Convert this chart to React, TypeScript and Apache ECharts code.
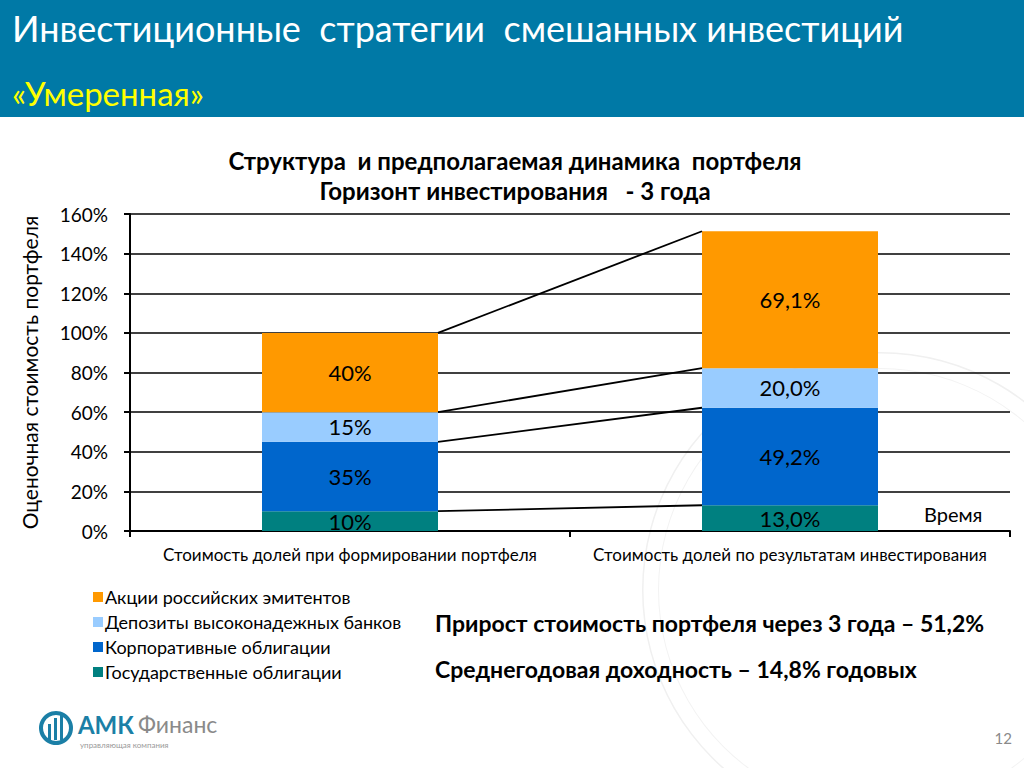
import React, { useEffect, useRef } from "react";
import * as echarts from "echarts";

const categories = [
  "Стоимость долей при формировании портфеля",
  "Стоимость долей по результатам инвестирования",
];
const seriesNames = [
  "Государственные облигации",
  "Корпоративные облигации",
  "Депозиты высоконадежных банков",
  "Акции российских эмитентов",
];
const govBonds = [10, 13.0];
const corpBonds = [35, 49.2];
const deposits = [15, 20.0];
const stocks = [40, 69.1];
const yTicks = [0, 160, 20];
const legendOrder = [
  "Акции российских эмитентов",
  "Депозиты высоконадежных банков",
  "Корпоративные облигации",
  "Государственные облигации",
];

const colors = ["#008080", "#0066CC", "#99CCFF", "#FF9900"];
const FONT = "Lato, 'Open Sans', sans-serif";

export default function App() {
  const ref = useRef<HTMLDivElement>(null);
  useEffect(() => {
    document.body.style.margin = "0";
    if (!ref.current) return;
    const chart = echarts.init(ref.current, null, { renderer: "svg" });
    const values = [govBonds, corpBonds, deposits, stocks];
    const cum: number[][] = [];
    let acc = [0, 0];
    values.forEach((v) => {
      acc = [acc[0] + v[0], acc[1] + v[1]];
      cum.push([0, acc[0], acc[1]]);
    });
    const fmt = (v: number, idx: number) =>
      idx === 0 ? `${v}%` : `${v.toFixed(1).replace(".", ",")}%`;

    const barSeries = values.map((v, i) => ({
      type: "bar",
      name: seriesNames[i],
      stack: "total",
      data: v,
      barWidth: "40%",
      itemStyle: { color: colors[i] },
      label: {
        show: true,
        position: "inside",
        color: "#000",
        fontSize: 22,
        fontFamily: FONT,
        formatter: (p: any) => fmt(p.value, p.dataIndex),
      },
      z: 3,
    }));

    chart.setOption({
      animation: false,
      backgroundColor: "#fff",
      textStyle: { fontFamily: FONT },
      grid: { left: 130, right: 14, top: 214, bottom: 237, containLabel: false },
      legend: {
        orient: "vertical",
        left: 88,
        top: 583,
        itemWidth: 10,
        itemHeight: 10,
        itemGap: 7,
        data: legendOrder,
        icon: "rect",
        textStyle: { fontSize: 18, color: "#000", fontFamily: FONT, padding: [0, 0, 0, -3] },
      },
      xAxis: {
        type: "category",
        data: categories,
        axisLine: { lineStyle: { color: "#000", width: 2 } },
        axisTick: { show: true, length: 6, lineStyle: { color: "#000", width: 2 } },
        axisLabel: { color: "#000", fontSize: 17, margin: 15, fontFamily: FONT, interval: 0, hideOverlap: false },
        splitLine: { show: false },
      },
      yAxis: {
        type: "value",
        min: yTicks[0],
        max: yTicks[1],
        interval: yTicks[2],
        name: "Оценочная стоимость портфеля",
        nameLocation: "middle",
        nameRotate: 90,
        nameGap: 90,
        nameTextStyle: { fontSize: 21, color: "#000", fontFamily: FONT },
        axisLine: { show: true, lineStyle: { color: "#000", width: 2 } },
        axisTick: { show: true, length: 6, lineStyle: { color: "#000", width: 2 } },
        axisLabel: { color: "#000", fontSize: 19, formatter: "{value}%", margin: 22, fontFamily: FONT },
        splitLine: { lineStyle: { color: "#000", width: 1.5 } },
      },
      series: [
        ...barSeries,
        {
          type: "custom",
          name: "connectors",
          data: cum,
          encode: { x: 0, y: [1, 2] },
          z: 4,
          silent: true,
          renderItem: (params: any, api: any) => {
            const p1 = api.coord([0, api.value(1)]);
            const p2 = api.coord([1, api.value(2)]);
            const half = api.size([1, 0])[0] * 0.2;
            return {
              type: "line",
              shape: { x1: p1[0] + half, y1: p1[1], x2: p2[0] - half, y2: p2[1] },
              style: { stroke: "#000", lineWidth: 1.8 },
            };
          },
        },
      ],
      graphic: [
        { type: "ring", shape: { cx: 880, cy: 590, r: 238, r0: 236.5 }, style: { fill: "#f0f0f0" }, z: -10, silent: true },
        { type: "ring", shape: { cx: 880, cy: 590, r: 222, r0: 221 }, style: { fill: "#f3f3f3" }, z: -10, silent: true },
        { type: "rect", shape: { x: 0, y: 0, width: 1024, height: 117 }, style: { fill: "#0079A6" } },
        {
          type: "text",
          x: 12,
          y: 28,
          style: {
            text: "Инвестиционные  стратегии  смешанных инвестиций",
            fill: "#fff",
            font: `36px ${FONT}`,
            textVerticalAlign: "middle",
          },
        },
        {
          type: "text",
          x: 12,
          y: 93,
          style: { text: "«Умеренная»", fill: "#FFFF00", font: `33px ${FONT}`, textVerticalAlign: "middle" },
        },
        {
          type: "text",
          x: 515,
          y: 160,
          style: {
            text: "Структура  и предполагаемая динамика  портфеля",
            fill: "#000",
            font: `bold 24px ${FONT}`,
            textAlign: "center",
            textVerticalAlign: "middle",
          },
        },
        {
          type: "text",
          x: 515,
          y: 190,
          style: {
            text: "Горизонт инвестирования   - 3 года",
            fill: "#000",
            font: `bold 24px ${FONT}`,
            textAlign: "center",
            textVerticalAlign: "middle",
          },
        },
        {
          type: "text",
          x: 924,
          y: 514,
          style: { text: "Время", fill: "#000", font: `20px ${FONT}`, textVerticalAlign: "middle" },
        },
        {
          type: "text",
          x: 435,
          y: 623,
          style: {
            text: "Прирост стоимость портфеля через 3 года – 51,2%",
            fill: "#000",
            font: `bold 23px ${FONT}`,
            textVerticalAlign: "middle",
          },
        },
        {
          type: "text",
          x: 435,
          y: 669,
          style: {
            text: "Среднегодовая доходность – 14,8% годовых",
            fill: "#000",
            font: `bold 23px ${FONT}`,
            textVerticalAlign: "middle",
          },
        },
        // logo
        { type: "ring", shape: { cx: 56, cy: 728, r: 17, r0: 13 }, style: { fill: "#1B7FA6" } },
        { type: "rect", shape: { x: 48, y: 724, width: 3, height: 16 }, style: { fill: "#1B7FA6" } },
        { type: "rect", shape: { x: 54, y: 718, width: 3, height: 22 }, style: { fill: "#1B7FA6" } },
        { type: "rect", shape: { x: 60, y: 713, width: 3, height: 27 }, style: { fill: "#1B7FA6" } },
        {
          type: "text",
          x: 78,
          y: 724,
          style: { text: "АМК", fill: "#1B7FA6", font: `bold 24px ${FONT}`, textVerticalAlign: "middle" },
        },
        {
          type: "text",
          x: 138,
          y: 724,
          style: { text: "Финанс", fill: "#8a8a8a", font: `23px ${FONT}`, textVerticalAlign: "middle" },
        },
        {
          type: "text",
          x: 80,
          y: 745,
          style: { text: "управляющая компания", fill: "#999", font: `8px ${FONT}`, textVerticalAlign: "middle" },
        },
        {
          type: "text",
          x: 1012,
          y: 738,
          style: { text: "12", fill: "#8a8a8a", font: `15px ${FONT}`, textAlign: "right", textVerticalAlign: "middle" },
        },
      ],
    });
    return () => chart.dispose();
  }, []);
  return <div ref={ref} style={{ width: 1024, height: 768 }} />;
}
